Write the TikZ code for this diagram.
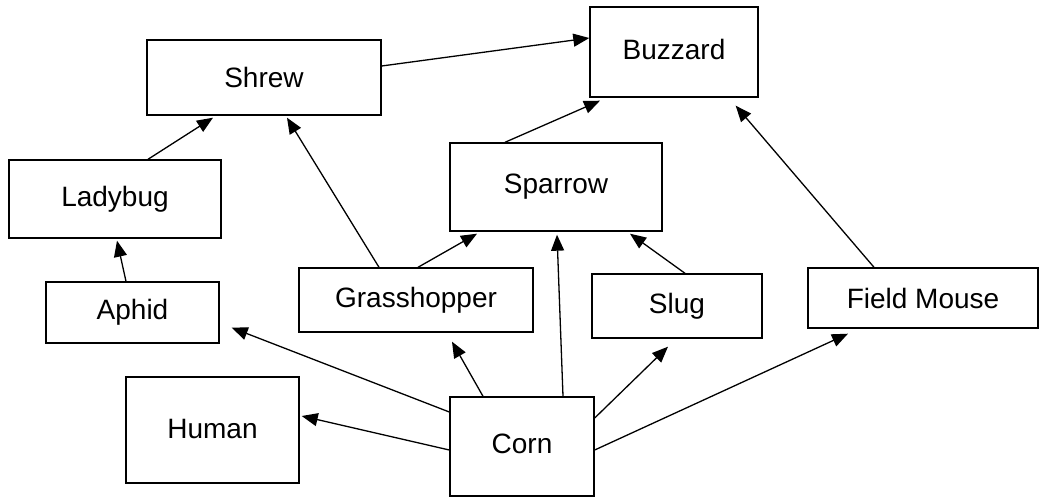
\documentclass[tikz,border=0pt]{standalone}
\usepackage{fontspec}
\setmainfont{Liberation Sans}
\usetikzlibrary{arrows.meta}

\begin{document}
\begin{tikzpicture}[x=1pt,y=-1pt,
    animal/.style={rectangle,draw,line width=1.4pt,inner sep=0pt,font=\fontsize{28}{33}\selectfont},
    eats/.style={-{Triangle[length=16pt,width=13pt]},line width=1.3pt}]

    \useasboundingbox (0,0) rectangle (1040,497);

    \node[animal,minimum width=168pt,minimum height=90pt] (buzzard) at (674,52) {\raisebox{5pt}{Buzzard}};
    \node[animal,minimum width=234pt,minimum height=75pt] (shrew) at (264,77.5) {Shrew};
    \node[animal,minimum width=212pt,minimum height=78pt] (ladybug) at (115,199) {Ladybug};
    \node[animal,minimum width=212pt,minimum height=88pt] (sparrow) at (556,187) {Sparrow};
    \node[animal,minimum width=173pt,minimum height=61pt] (aphid) at (132.5,312.5) {Aphid};
    \node[animal,minimum width=234pt,minimum height=64pt] (grass) at (416,300) {Grasshopper};
    \node[animal,minimum width=170pt,minimum height=64pt] (slug) at (677,306) {Slug};
    \node[animal,minimum width=230pt,minimum height=60pt] (mouse) at (923,298) {Field Mouse};
    \node[animal,minimum width=173pt,minimum height=106pt] (human) at (212.5,430) {\raisebox{3pt}{Human}};
    \node[animal,minimum width=144pt,minimum height=99pt] (corn) at (522,446.5) {\raisebox{5pt}{Corn}};

    \draw[eats] ([yshift=11.5pt]shrew.east) -- ([yshift=14pt]buzzard.west);
    \draw[eats] ([xshift=33pt]ladybug.north) -- ([xshift=-51pt,yshift=-2pt]shrew.south);
    \draw[eats] ([xshift=-6.5pt]aphid.north) -- ([xshift=2pt,yshift=-2pt]ladybug.south);
    \draw[eats] ([xshift=-37pt]grass.north) -- ([xshift=23pt,yshift=-2pt]shrew.south);
    \draw[eats] ([xshift=2pt]grass.north) -- ([xshift=-79pt,yshift=-2pt]sparrow.south);
    \draw[eats] ([xshift=-51pt]sparrow.north) -- ([xshift=-74pt,yshift=-3pt]buzzard.south);
    \draw[eats] ([xshift=8pt]slug.north) -- ([xshift=74pt,yshift=-2pt]sparrow.south);
    \draw[eats] ([xshift=-49pt]mouse.north) -- ([xshift=-23pt,yshift=-8pt]buzzard.south east);
    \draw[eats] ([xshift=41pt]corn.north) -- ([xshift=1pt,yshift=-3pt]sparrow.south);
    \draw[eats] ([yshift=34.5pt]corn.west) -- ([xshift=12pt,yshift=16pt]aphid.south east);
    \draw[eats] ([xshift=-39pt]corn.north) -- ([xshift=36pt,yshift=-9pt]grass.south);
    \draw[eats] ([yshift=28.5pt]corn.east) -- ([xshift=-9pt,yshift=-8pt]slug.south);
    \draw[eats] ([yshift=-3.5pt]corn.east) -- ([xshift=-75pt,yshift=-5pt]mouse.south);
    \draw[eats] ([yshift=-3.5pt]corn.west) -- ([xshift=2pt,yshift=14pt]human.east);
\end{tikzpicture}
\end{document}
